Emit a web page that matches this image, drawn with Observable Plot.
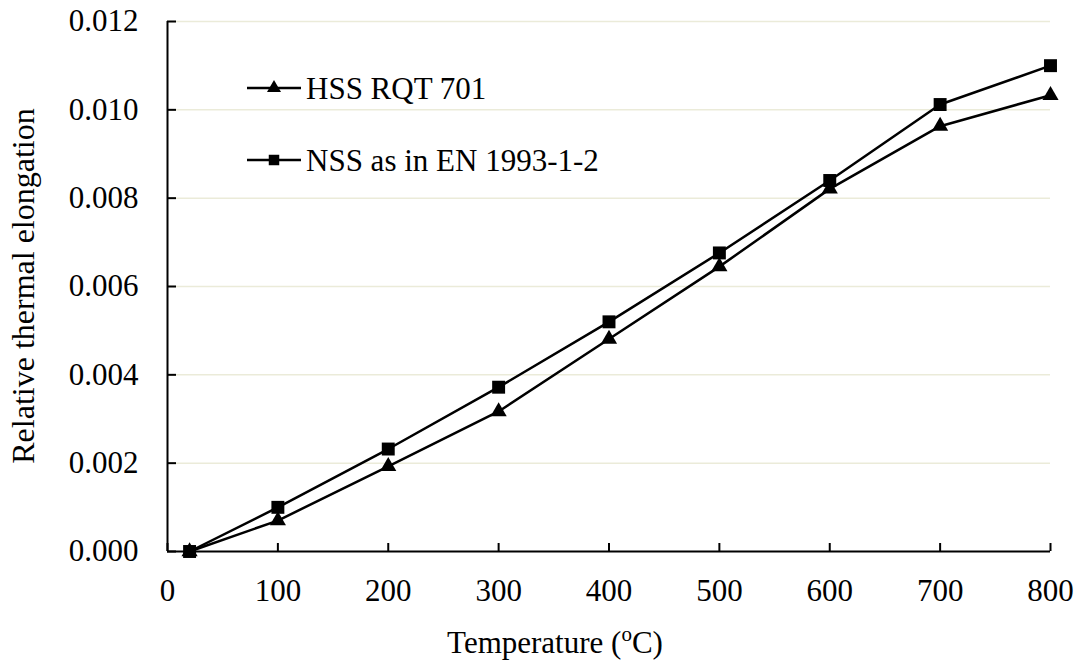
<!DOCTYPE html>
<html>
<head>
<meta charset="utf-8">
<script src="https://cdn.jsdelivr.net/npm/d3@7"></script>
<script src="https://cdn.jsdelivr.net/npm/@observablehq/plot@0.6"></script>
<style>
  html, body { margin: 0; padding: 0; background: #fff; }
  #chart svg { display: block; }
  #chart svg text { font-family: 'Liberation Serif', 'Times New Roman', Times, serif !important; }
</style>
</head>
<body>
<div id="chart"></div>
<script>
// Temperatures (°C) at which the elongation was evaluated
const temperatures = [20, 100, 200, 300, 400, 500, 600, 700, 800];
// Relative thermal elongation, high-strength steel RQT 701
const hssRQT701 = [0, 0.00070, 0.00193, 0.00317, 0.00481, 0.00645, 0.00821, 0.00963, 0.01033];
// Relative thermal elongation, normal-strength steel per EN 1993-1-2
const nssEN1993 = [0, 0.00100, 0.00232, 0.00372, 0.00520, 0.00676, 0.00840, 0.01012, 0.01100];

const seriesNames = ["HSS RQT 701", "NSS as in EN 1993-1-2"];
const xTicks = [0, 100, 200, 300, 400, 500, 600, 700, 800];
const yTicks = [0, 0.002, 0.004, 0.006, 0.008, 0.010, 0.012];

const xTitle = "Temperature (";
const xTitleSup = "o";
const xTitleEnd = "C)";
const yTitle = "Relative thermal elongation";

const hssRows = temperatures.map((t, i) => ({t, v: hssRQT701[i], series: seriesNames[0]}));
const nssRows = temperatures.map((t, i) => ({t, v: nssEN1993[i], series: seriesNames[1]}));

const font = "'Liberation Serif', 'Times New Roman', Times, serif";
const fs = 31;

const chart = Plot.plot({
  width: 1083,
  height: 665,
  marginLeft: 167,
  marginRight: 33,
  marginTop: 21,
  marginBottom: 114,
  style: {fontFamily: font, fontSize: fs + "px", color: "#000", background: "#fff", overflow: "visible"},
  x: {domain: [0, 800]},
  y: {domain: [0, 0.012]},
  marks: [
    Plot.ruleY(yTicks.filter(d => d > 0), {stroke: "#ebebd9", strokeWidth: 1.5}),
    Plot.axisX(xTicks, {tickSize: -8, tickPadding: 35, tickFormat: d => String(d), strokeWidth: 2, fontFamily: font, fontSize: fs, label: null}),
    Plot.axisY(yTicks, {tickSize: -9, tickPadding: 38, tickFormat: d3.format(".3f"), strokeWidth: 2, fontFamily: font, fontSize: fs, label: null}),
    Plot.ruleX([0], {y1: 0, y2: 0.012, stroke: "#000", strokeWidth: 2}),
    Plot.ruleY([0], {x1: 0, x2: 800, stroke: "#000", strokeWidth: 2}),
    Plot.line(hssRows, {x: "t", y: "v", stroke: "#000", strokeWidth: 2.5}),
    Plot.line(nssRows, {x: "t", y: "v", stroke: "#000", strokeWidth: 2.5}),
    Plot.dot(hssRows, {x: "t", y: "v", symbol: "triangle", r: 6, fill: "#000", stroke: "none"}),
    Plot.dot(nssRows, {x: "t", y: "v", symbol: "square", r: 7.3, fill: "#000", stroke: "none"})
  ]
});

const svg = d3.select(chart);

// Axis titles
const xt = svg.append("text")
  .attr("x", 555).attr("y", 653)
  .attr("text-anchor", "middle")
  .attr("font-family", font).attr("font-size", fs).attr("fill", "#000");
xt.append("tspan").text(xTitle);
xt.append("tspan").attr("font-size", 21).attr("dy", -12).text(xTitleSup);
xt.append("tspan").attr("dy", 12).text(xTitleEnd);

svg.append("text")
  .attr("transform", "translate(34,286) rotate(-90)")
  .attr("text-anchor", "middle")
  .attr("font-family", font).attr("font-size", 32).attr("fill", "#000")
  .text(yTitle);

// Legend inside the plot area
const legend = svg.append("g");
const legendItems = [
  {name: seriesNames[0], symbol: d3.symbolTriangle, size: 85, y: 88},
  {name: seriesNames[1], symbol: d3.symbolSquare, size: 110, y: 160}
];
legendItems.forEach(item => {
  legend.append("line")
    .attr("x1", 247).attr("x2", 301).attr("y1", item.y).attr("y2", item.y)
    .attr("stroke", "#000").attr("stroke-width", 2.5);
  legend.append("path")
    .attr("d", d3.symbol(item.symbol, item.size)())
    .attr("transform", `translate(274,${item.y})`)
    .attr("fill", "#000");
  legend.append("text")
    .attr("x", 306).attr("y", item.y + 10.5)
    .attr("text-anchor", "start")
    .attr("font-family", font).attr("font-size", fs).attr("fill", "#000")
    .text(item.name);
});

document.getElementById("chart").append(chart);
</script>
</body>
</html>
